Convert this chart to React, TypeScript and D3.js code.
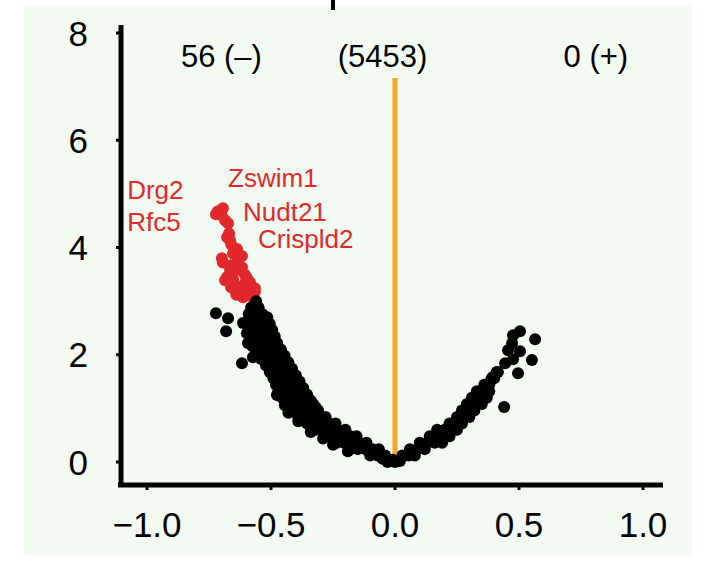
import React from "react";
import * as d3 from "d3";

// ---- data ----
const xTicks = [-1, -0.5, 0, 0.5, 1];
const xTickLabels = ["\u22121.0", "\u22120.5", "0.0", "0.5", "1.0"];
const yTicks = [0, 2, 4, 6, 8];
const yTickLabels = ["0", "2", "4", "6", "8"];

const countTexts = ["56 (\u2013)", "(5453)", "0 (+)"];
const countX = [-0.7, -0.05, 0.81];
const countY = 7.37;

const geneNames = ["Drg2", "Rfc5", "Zswim1", "Nudt21", "Crispld2"];
const geneX = [-1.08, -1.08, -0.673, -0.613, -0.552];
const geneY = [4.9, 4.31, 5.13, 4.49, 3.99];

const cutLine = { x: 0, y0: 0, y1: 7.16 };

// non-significant genes, left arm
const leftArm: [number, number][] = [
  [-0.03, 0.0], [-0.01, 0.04], [-0.05, 0.06],
  [-0.1, 0.12], [-0.07, 0.12], [-0.04, 0.12],
  [-0.18, 0.24], [-0.15, 0.24], [-0.12, 0.24], [-0.09, 0.24], [-0.065, 0.24],
  [-0.235, 0.36], [-0.205, 0.36], [-0.175, 0.36], [-0.145, 0.36], [-0.115, 0.36],
  [-0.27, 0.48], [-0.24, 0.48], [-0.21, 0.48], [-0.18, 0.48], [-0.155, 0.48],
  [-0.32, 0.6], [-0.29, 0.6], [-0.26, 0.6], [-0.23, 0.6], [-0.2, 0.6],
  [-0.355, 0.72], [-0.325, 0.72], [-0.295, 0.72], [-0.265, 0.72], [-0.24, 0.72],
  [-0.39, 0.84], [-0.36, 0.84], [-0.33, 0.84], [-0.3, 0.84], [-0.28, 0.84],
  [-0.425, 0.96], [-0.395, 0.96], [-0.365, 0.96], [-0.335, 0.96], [-0.31, 0.96],
  [-0.44, 1.08], [-0.41, 1.08], [-0.38, 1.08], [-0.35, 1.08], [-0.33, 1.08],
  [-0.455, 1.2], [-0.425, 1.2], [-0.395, 1.2], [-0.365, 1.2], [-0.35, 1.2],
  [-0.47, 1.32], [-0.44, 1.32], [-0.41, 1.32], [-0.38, 1.32], [-0.37, 1.32],
  [-0.48, 1.44], [-0.455, 1.44], [-0.425, 1.44], [-0.395, 1.44],
  [-0.49, 1.56], [-0.465, 1.56], [-0.435, 1.56], [-0.41, 1.56],
  [-0.505, 1.68], [-0.48, 1.68], [-0.45, 1.68], [-0.42, 1.68],
  [-0.52, 1.8], [-0.495, 1.8], [-0.465, 1.8], [-0.44, 1.8],
  [-0.54, 1.92], [-0.51, 1.92], [-0.48, 1.92], [-0.455, 1.92],
  [-0.555, 2.04], [-0.53, 2.04], [-0.5, 2.04], [-0.47, 2.04],
  [-0.575, 2.16], [-0.545, 2.16], [-0.515, 2.16], [-0.485, 2.16],
  [-0.58, 2.28], [-0.555, 2.28], [-0.525, 2.28], [-0.495, 2.28],
  [-0.585, 2.4], [-0.56, 2.4], [-0.53, 2.4], [-0.5, 2.4],
  [-0.59, 2.52], [-0.565, 2.52], [-0.535, 2.52], [-0.51, 2.52],
  [-0.59, 2.64], [-0.56, 2.64], [-0.525, 2.64],
  [-0.59, 2.76], [-0.56, 2.76], [-0.535, 2.76],
  [-0.58, 2.88], [-0.55, 2.88],
  [-0.56, 3.0],
  // ragged outer edge
  [-0.45, 1.26], [-0.43, 0.92], [-0.39, 0.76], [-0.34, 0.56],
  [-0.29, 0.44], [-0.25, 0.32], [-0.19, 0.2],
  // inner edge
  [-0.32, 1.02], [-0.34, 1.14], [-0.355, 1.26], [-0.37, 1.38],
  [-0.385, 1.5], [-0.4, 1.62], [-0.415, 1.74], [-0.43, 1.86],
  [-0.445, 1.98], [-0.46, 2.1], [-0.475, 2.22], [-0.485, 2.34],
  [-0.495, 2.46], [-0.505, 2.58], [-0.515, 2.7],
];

// non-significant genes, right arm
const rightArm: [number, number][] = [
  [0.0, 0.0], [0.02, 0.02],
  [0.03, 0.12], [0.055, 0.12], [0.08, 0.12],
  [0.06, 0.24], [0.09, 0.24], [0.12, 0.24],
  [0.1, 0.36], [0.13, 0.36], [0.16, 0.36], [0.19, 0.36],
  [0.14, 0.48], [0.17, 0.48], [0.2, 0.48], [0.22, 0.48],
  [0.17, 0.6], [0.2, 0.6], [0.23, 0.6], [0.25, 0.6],
  [0.22, 0.72], [0.25, 0.72], [0.27, 0.72],
  [0.25, 0.84], [0.28, 0.84], [0.3, 0.84],
  [0.27, 0.96], [0.3, 0.96], [0.32, 0.96],
  [0.29, 1.08], [0.32, 1.08], [0.35, 1.08],
  [0.31, 1.2], [0.34, 1.2], [0.37, 1.2],
  [0.33, 1.32], [0.36, 1.32], [0.38, 1.32],
  [0.36, 1.44], [0.38, 1.44],
  [0.39, 1.56], [0.4, 1.56],
  [0.41, 1.68],
];

// scattered non-significant genes
const strayPoints: [number, number][] = [
  [-0.722, 2.775], [-0.673, 2.68], [-0.681, 2.44], [-0.617, 1.84],
  [-0.573, 1.955], [-0.613, 2.59], [-0.597, 2.4], [-0.593, 2.22],
  [-0.476, 1.25], [-0.444, 1.06],
  [0.504, 2.44], [0.476, 2.365], [0.565, 2.29], [0.472, 2.216],
  [0.456, 2.086], [0.504, 2.067], [0.476, 1.918], [0.444, 1.843],
  [0.552, 1.9], [0.496, 1.657], [0.415, 1.676], [0.395, 1.583],
  [0.383, 1.49], [0.44, 1.024],
];

// significant (down) genes
const sigPoints: [number, number][] = [
  [-0.714, 4.674], [-0.694, 4.73], [-0.722, 4.62], [-0.685, 4.51],
  [-0.673, 4.45], [-0.669, 4.26], [-0.677, 4.19], [-0.637, 3.97],
  [-0.653, 3.89], [-0.698, 3.8], [-0.694, 3.72], [-0.637, 3.72],
  [-0.617, 3.63], [-0.625, 3.58], [-0.677, 3.45], [-0.685, 3.39],
  [-0.653, 3.41], [-0.597, 3.43], [-0.585, 3.35], [-0.645, 3.3],
  [-0.617, 3.26], [-0.597, 3.2], [-0.625, 3.2], [-0.585, 3.11],
  [-0.613, 3.07], [-0.565, 3.17], [-0.577, 3.24], [-0.605, 3.34],
  [-0.661, 3.67], [-0.63, 3.85], [-0.66, 4.05], [-0.7, 4.6],
  [-0.57, 3.05], [-0.66, 3.52], [-0.64, 3.12],
  [-0.665, 4.13], [-0.617, 3.84], [-0.665, 3.58], [-0.605, 3.49],
  [-0.565, 3.24], [-0.641, 3.17], [-0.661, 3.26],
];

export default function App() {
  const W = 710;
  const H = 561;
  const x = d3.scaleLinear().domain([-1, 1]).range([147, 643]);
  const y = d3.scaleLinear().domain([0, 8]).range([462, 33]);
  const font = "'Liberation Sans', Arial, Helvetica, sans-serif";
  const red = "#e1282b";
  const r = 6;
  const black = [...leftArm, ...rightArm, ...strayPoints];

  return (
    <svg
      width={W}
      height={H}
      style={{ position: "absolute", left: 0, top: 0 }}
      fontFamily={font}
    >
      <rect x={0} y={0} width={W} height={H} fill="#ffffff" />
      <rect x={24} y={6} width={668} height={549} fill="#f3faf1" />
      <rect x={331} y={0} width={4} height={10} fill="#000" />

      {/* axes */}
      <line x1={121} x2={121} y1={25} y2={487} stroke="#000" strokeWidth={5} />
      <line x1={118} x2={663} y1={485} y2={485} stroke="#000" strokeWidth={5} />
      {yTicks.map((t) => (
        <line key={"yt" + t} x1={116} x2={121} y1={y(t)} y2={y(t)} stroke="#000" strokeWidth={3} />
      ))}
      {xTicks.map((t) => (
        <line key={"xt" + t} x1={x(t)} x2={x(t)} y1={485} y2={490} stroke="#000" strokeWidth={3} />
      ))}
      {yTicks.map((t, i) => (
        <text key={"yl" + t} x={88} y={y(t)} dy="0.36em" textAnchor="end" fontSize={35} fill="#000">
          {yTickLabels[i]}
        </text>
      ))}
      {xTicks.map((t, i) => (
        <text key={"xl" + t} x={x(t)} y={537} textAnchor="middle" fontSize={35} fill="#000">
          {xTickLabels[i]}
        </text>
      ))}

      {/* cut line */}
      <line
        x1={x(cutLine.x)}
        x2={x(cutLine.x)}
        y1={y(cutLine.y0)}
        y2={y(cutLine.y1)}
        stroke="#f5a623"
        strokeWidth={5}
      />

      {/* points */}
      {sigPoints.map((p, i) => (
        <circle key={"s" + i} cx={x(p[0])} cy={y(p[1])} r={r} fill={red} />
      ))}
      {black.map((p, i) => (
        <circle key={"b" + i} cx={x(p[0])} cy={y(p[1])} r={r} fill="#000" />
      ))}

      {/* counts */}
      {countTexts.map((t, i) => (
        <text key={"c" + i} x={x(countX[i])} y={y(countY)} textAnchor="middle" fontSize={31} fill="#000">
          {t}
        </text>
      ))}

      {/* gene labels */}
      {geneNames.map((g, i) => (
        <text key={"g" + i} x={x(geneX[i])} y={y(geneY[i])} fontSize={26} fill={red}>
          {g}
        </text>
      ))}
    </svg>
  );
}
